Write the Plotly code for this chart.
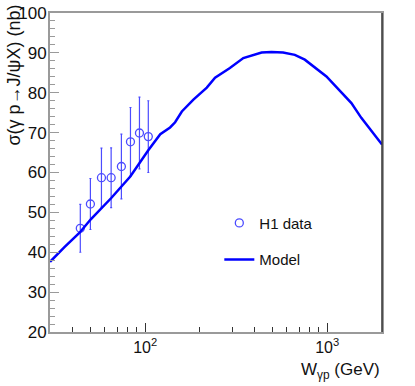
import plotly.graph_objects as go

# H1 data points
h1_w = [44.0, 50.0, 57.5, 65.0, 74.0, 83.0, 93.0, 104.0]
h1_sigma = [46.0, 52.1, 58.7, 58.7, 61.5, 67.7, 69.9, 69.0]
h1_err = [6.0, 6.4, 7.4, 7.5, 8.1, 8.6, 9.0, 9.0]

# model curve
model_w = [30, 36, 43.6, 50.1, 65.1, 82.8, 104, 121, 137, 146, 159, 184, 218, 242,
           292, 346, 436, 494, 572, 664, 753, 990, 1358, 1539, 2000]
model_sigma = [37.6, 41.3, 44.9, 48.2, 53.6, 59.0, 65.6, 69.6, 71.3, 72.6, 75.3, 78.3,
               81.3, 83.8, 86.2, 88.7, 90.1, 90.2, 90.1, 89.5, 88.3, 84.1, 77.4, 73.7, 67.0]

FONT = "Liberation Sans, Arial, Helvetica, sans-serif"
GRAY = "#9a9a9a"

fig = go.Figure()

fig.add_trace(go.Scatter(
    x=h1_w, y=h1_sigma,
    mode="markers",
    name="H1 data",
    marker=dict(symbol="circle-open", size=8, color="#4b4bff", line=dict(width=1.3)),
    error_y=dict(type="data", array=h1_err, color="#4b4bff", thickness=1.2, width=1),
    legendgroup="a",
))

fig.add_trace(go.Scatter(
    x=model_w, y=model_sigma,
    mode="lines",
    name="Model",
    line=dict(color="#0000ff", width=2.5),
    legendgroup="b",
))

fig.update_xaxes(
    type="log", range=[1.477, 3.301], automargin=False,
    tickvals=[100, 1000], ticktext=["10<sup>2</sup>", "10<sup>3</sup>"],
    ticks="inside", ticklen=9, tickcolor="#333",
    minor=dict(tickvals=[40, 50, 60, 70, 80, 90, 200, 300, 400, 500, 600, 700, 800, 900, 2000],
               ticks="inside", ticklen=5, tickcolor="#333"),
    showline=True, linecolor=GRAY, linewidth=2, mirror=True,
    showgrid=False, zeroline=False,
    tickfont=dict(size=16, color="#111"),
)
fig.update_yaxes(
    range=[20, 100], dtick=10, automargin=False,
    ticks="inside", ticklen=9, tickcolor=GRAY,
    minor=dict(dtick=2, ticks="inside", ticklen=5, tickcolor=GRAY),
    showline=True, linecolor=GRAY, linewidth=2, mirror=True,
    showgrid=False, zeroline=False,
    tickfont=dict(size=17, color="#111"),
    ticklabelstandoff=-2,
)

# dark right frame edge
fig.add_shape(type="line", xref="paper", yref="paper", x0=1, x1=1, y0=0, y1=1,
              line=dict(color="#333", width=1.5))

fig.add_annotation(
    text="σ(γ p→J/ψX) (nb)", textangle=-90,
    xref="paper", yref="paper", x=0, y=1, xshift=-37, yshift=10,
    xanchor="center", yanchor="top", showarrow=False,
    font=dict(size=18, color="#111", family=FONT),
)
fig.add_annotation(
    text="W<sub>γp</sub> (GeV)",
    xref="paper", yref="paper", x=1, y=0, yshift=-26,
    xanchor="right", yanchor="top", showarrow=False,
    font=dict(size=17, color="#111", family=FONT),
)

fig.update_layout(
    width=415, height=386,
    margin=dict(l=50, r=33, t=13, b=54),
    paper_bgcolor="white", plot_bgcolor="white",
    font=dict(family=FONT),
    showlegend=True,
    legend=dict(x=0.51, y=0.393, xanchor="left", yanchor="top",
                bgcolor="rgba(0,0,0,0)", font=dict(size=15, color="#111"),
                tracegroupgap=14, itemwidth=30),
)

# drop the browser's default 8px body margin so the figure sits at the corner
fig.write_html("out.html", config={"displayModeBar": False},
               post_script="document.body.style.margin='0';")
